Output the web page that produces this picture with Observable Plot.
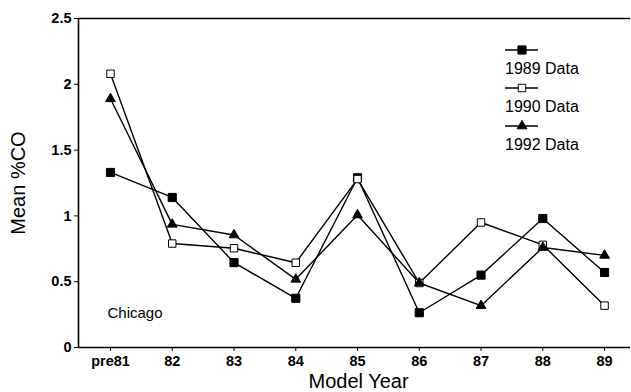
<!DOCTYPE html>
<html>
<head>
<meta charset="utf-8">
<script src="https://cdn.jsdelivr.net/npm/d3@7"></script>
<script src="https://cdn.jsdelivr.net/npm/@observablehq/plot@0.6"></script>
<style>
  html, body { margin: 0; padding: 0; background: #fff; }
  #wrap { position: relative; width: 631px; height: 392px; font-family: "Liberation Sans", Arial, Helvetica, sans-serif; }
  #legend { position: absolute; left: 0; top: 0; }
</style>
</head>
<body>
<div id="wrap"></div>
<script>
const categories = ["pre81", "82", "83", "84", "85", "86", "87", "88", "89"];
const data1989 = [1.33, 1.14, 0.645, 0.374, 1.29, 0.264, 0.55, 0.98, 0.57];
const data1990 = [2.08, 0.79, 0.754, 0.644, 1.28, 0.49, 0.95, 0.78, 0.318];
const data1992 = [1.89, 0.936, 0.855, 0.518, 1.007, 0.49, 0.318, 0.76, 0.70];
const seriesNames = ["1989 Data", "1990 Data", "1992 Data"];
const yTicks = [0, 0.5, 1, 1.5, 2, 2.5];

const seriesValues = [data1989, data1990, data1992];
const rows = [];
seriesNames.forEach((s, k) => seriesValues[k].forEach((v, i) => rows.push({series: s, i, cat: categories[i], value: v})));
const idx = categories.map((d, i) => i);
const xDomain = [-0.518, 8.42];

const font = "'Liberation Sans', Arial, Helvetica, sans-serif";
const markerStyle = {
  "1989 Data": {symbol: "square", fill: "black", stroke: "black", r: 4.6},
  "1990 Data": {symbol: "square", fill: "white", stroke: "black", r: 4.2},
  "1992 Data": {symbol: "triangle", fill: "black", stroke: "black", r: 3.6}
};

const marks = [];
marks.push(Plot.ruleY([yTicks[0], yTicks[yTicks.length - 1]], {stroke: "black", strokeWidth: 1.6}));
marks.push(Plot.ruleX([xDomain[0]], {stroke: "black", strokeWidth: 1.6}));
marks.push(Plot.axisY(yTicks, {tickSize: 4, tickPadding: 3, fontSize: 14.5, fontWeight: "bold", label: null, tickFormat: d3.format("")}));
marks.push(Plot.axisX(idx, {tickSize: 4, tickPadding: 4, fontSize: 14.5, fontWeight: "bold", label: null, tickFormat: i => categories[i]}));
seriesNames.forEach(s => {
  const d = rows.filter(r => r.series === s);
  marks.push(Plot.line(d, {x: "i", y: "value", stroke: "black", strokeWidth: 1.4}));
});
seriesNames.forEach(s => {
  const d = rows.filter(r => r.series === s);
  const m = markerStyle[s];
  marks.push(Plot.dot(d, {x: "i", y: "value", symbol: m.symbol, fill: m.fill, stroke: m.stroke, strokeWidth: 1, r: m.r}));
});
marks.push(Plot.text(["Mean %CO"], {frameAnchor: "left", textAnchor: "middle", lineAnchor: "middle", rotate: -90, dx: -60, dy: 0, fontSize: 20, fill: "black"}));
marks.push(Plot.text(["Model Year"], {frameAnchor: "bottom", textAnchor: "middle", lineAnchor: "middle", dx: 4, dy: 34, fontSize: 20, fill: "black"}));
marks.push(Plot.text(["Chicago"], {frameAnchor: "bottom-left", textAnchor: "start", lineAnchor: "middle", dx: 29, dy: -34, fontSize: 15, fill: "black"}));

const chart = Plot.plot({
  width: 631,
  height: 392,
  marginTop: 18,
  marginBottom: 45,
  marginLeft: 78,
  marginRight: 1,
  style: {fontFamily: font, color: "black", background: "white", overflow: "visible"},
  x: {type: "linear", domain: xDomain, axis: null},
  y: {type: "linear", domain: [0, 2.5], axis: null},
  marks
});
document.getElementById("wrap").appendChild(chart);

// legend overlay
const leg = d3.select("#wrap").append("svg").attr("id", "legend").attr("width", 631).attr("height", 392);
const legY = [50, 88, 126];
seriesNames.forEach((s, k) => {
  const g = leg.append("g").attr("transform", `translate(505,${legY[k]})`);
  g.append("line").attr("x1", 0).attr("x2", 33).attr("y1", 0).attr("y2", 0).attr("stroke", "black").attr("stroke-width", 1.4);
  const m = markerStyle[s];
  const sym = m.symbol === "square" ? d3.symbolSquare : d3.symbolTriangle;
  g.append("path").attr("transform", "translate(17,0)").attr("d", d3.symbol(sym, Math.PI * m.r * m.r)())
    .attr("fill", m.fill).attr("stroke", m.stroke).attr("stroke-width", 1);
  leg.append("text").attr("x", 505).attr("y", legY[k] + 18).attr("dy", "0.35em")
    .attr("font-family", font).attr("font-size", 16).attr("fill", "black").text(s);
});
</script>
</body>
</html>
